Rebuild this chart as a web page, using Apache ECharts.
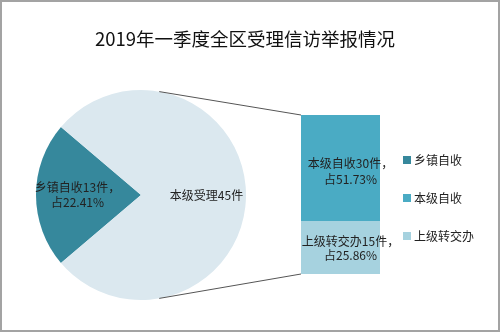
<!DOCTYPE html>
<html>
<head>
<meta charset="utf-8">
<script src="https://cdn.jsdelivr.net/npm/echarts@6/dist/echarts.min.js"></script>
<style>
html,body{margin:0;padding:0;background:#fff;}
#wrap{width:500px;height:332px;box-sizing:border-box;border:2px solid #a3a3a3;position:relative;overflow:hidden;}
#chart{position:absolute;left:-2px;top:-2px;width:500px;height:332px;}
</style>
</head>
<body>
<div id="wrap"><div id="chart"></div></div>
<script>
const title = '2019年一季度全区受理信访举报情况';
const pieNames = ['乡镇自收', '本级受理'];
const pieValues = [13, 45];
const pieLabels = ['乡镇自收13件，\n占22.41%', '本级受理45件'];
const barNames = ['上级转交办', '本级自收'];
const barValues = [15, 30];
const barLabels = ['上级转交办15件，\n占25.86%', '本级自收30件，\n占51.73%'];
const legendNames = ['乡镇自收', '本级自收', '上级转交办'];

const pieColors = ['#36889c', '#dbe8ef'];
const barColors = ['#a6d2df', '#4aabc4'];

const chart = echarts.init(document.getElementById('chart'), null, {renderer: 'canvas'});
const total = pieValues.reduce((a, b) => a + b, 0);
const startAngle = 180 + 360 * pieValues[0] / total / 2;
const pieCenter = [141, 195];
const pieRadius = 105;
const barTotal = barValues.reduce((a, b) => a + b, 0);

const option = {
  animation: false,
  title: {
    text: title, left: 240, top: 25, textAlign: 'center',
    textStyle: {fontSize: 18.5, fontWeight: 'normal', color: '#111', fontFamily: 'Noto Sans CJK SC'}
  },
  legend: {
    data: legendNames, orient: 'vertical', left: 398, top: 149,
    itemWidth: 8, itemHeight: 8, itemGap: 26, icon: 'rect',
    textStyle: {fontSize: 12, color: '#222', fontFamily: 'Noto Sans CJK SC', padding: [0, 0, 0, -2]},
    selectedMode: false
  },
  grid: {left: 301, top: 115, width: 79, height: 159},
  xAxis: {type: 'category', data: ['x'], show: false},
  yAxis: {type: 'value', min: 0, max: barTotal, show: false},
  series: [
    {
      type: 'pie', center: pieCenter, radius: pieRadius, startAngle: startAngle, clockwise: true,
      silent: true,
      label: {position: 'inside', fontSize: 12, color: '#222', lineHeight: 15, fontFamily: 'Noto Sans CJK SC',
        formatter: p => pieLabels[p.dataIndex]},
      labelLine: {show: false},
      labelLayout: p => ({dx: p.dataIndex === 0 ? -4 : 5}),
      data: pieValues.map((v, i) => ({
        name: pieNames[i], value: v,
        itemStyle: {color: pieColors[i]}
      }))
    },
    ...barValues.map((v, i) => ({
      type: 'bar', name: barNames[i], stack: 's', barWidth: '100%',
      itemStyle: {color: barColors[i]},
      label: {show: true, position: 'inside', fontSize: 12, color: '#222', lineHeight: i === 0 ? 14 : 16,
        fontFamily: 'Noto Sans CJK SC', formatter: () => barLabels[i]},
      labelLayout: {dx: 10, dy: i === 0 ? 1 : 3},
      data: [v]
    }))
  ]
};
chart.setOption(option);

// connector lines from pie to bar
const topLeft = chart.convertToPixel({gridIndex: 0}, [0, barTotal]);
const botLeft = chart.convertToPixel({gridIndex: 0}, [0, 0]);
const barLeftX = 301;
const a = 80 * Math.PI / 180;
const p1 = [pieCenter[0] + pieRadius * Math.cos(a), pieCenter[1] - pieRadius * Math.sin(a)];
const p2 = [pieCenter[0] + pieRadius * Math.cos(a), pieCenter[1] + pieRadius * Math.sin(a)];
chart.setOption({
  graphic: [
    {type: 'line', shape: {x1: p1[0], y1: p1[1], x2: barLeftX, y2: topLeft[1]}, style: {stroke: '#555', lineWidth: 1}, z: 10},
    {type: 'line', shape: {x1: p2[0], y1: p2[1], x2: barLeftX, y2: botLeft[1]}, style: {stroke: '#555', lineWidth: 1}, z: 10}
  ]
});
</script>
</body>
</html>
